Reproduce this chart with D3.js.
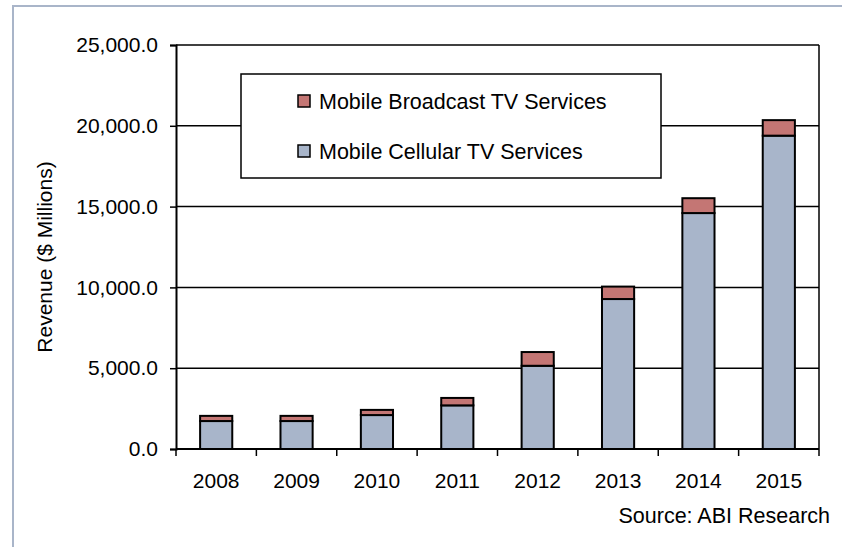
<!DOCTYPE html>
<html>
<head>
<meta charset="utf-8">
<script src="https://cdn.jsdelivr.net/npm/d3@7"></script>
<style>
  body { margin: 0; background: #fff; }
  svg text { font-family: "Liberation Sans", Arial, sans-serif; fill: #000; }
</style>
</head>
<body>
<div id="chart"></div>
<script>
const years = ['2008', '2009', '2010', '2011', '2012', '2013', '2014', '2015'];
const cellular = [1730, 1730, 2100, 2700, 5150, 9280, 14600, 19390];
const broadcast = [320, 320, 320, 460, 850, 770, 920, 960];
const yTicks = [0, 5000, 10000, 15000, 20000, 25000];
const seriesNames = ['Mobile Broadcast TV Services', 'Mobile Cellular TV Services'];
const seriesColors = ['#c47674', '#a8b5ca'];

const W = 842, H = 547;
const margin = {left: 176, right: 23, top: 45, bottom: 98};

const svg = d3.select('#chart').append('svg')
    .attr('width', W)
    .attr('height', H);

// outer frame (only top and left edges are visible in the picture)
svg.append('path')
    .attr('d', `M13,${H} V6 H${W}`)
    .attr('fill', 'none')
    .attr('stroke', '#a9b5c9')
    .attr('stroke-width', 2);

const x = d3.scaleBand().domain(years)
    .range([margin.left, W - margin.right])
    .paddingInner(0.6).paddingOuter(0.3);
const y = d3.scaleLinear().domain([0, 25000])
    .range([H - margin.bottom, margin.top]);

// gridlines
svg.append('g')
    .selectAll('line')
    .data(yTicks.slice(1))
    .join('line')
    .attr('x1', margin.left).attr('x2', W - margin.right)
    .attr('y1', d => y(d)).attr('y2', d => y(d))
    .attr('stroke', '#000').attr('stroke-width', 1.5);

// right edge of plot area
svg.append('line')
    .attr('x1', W - margin.right).attr('x2', W - margin.right)
    .attr('y1', y(25000)).attr('y2', y(0))
    .attr('stroke', '#000').attr('stroke-width', 1.5);

// legend box (drawn over the gridlines)
const legend = svg.append('g');
legend.append('rect')
    .attr('x', 241).attr('y', 74).attr('width', 420).attr('height', 104)
    .attr('fill', '#fff').attr('stroke', '#000').attr('stroke-width', 1.5);
seriesNames.forEach((name, i) => {
    const cy = 101 + i * 50;
    legend.append('rect')
        .attr('x', 298).attr('y', cy - 6).attr('width', 12).attr('height', 12)
        .attr('fill', seriesColors[i]).attr('stroke', '#000').attr('stroke-width', 1.5);
    legend.append('text')
        .attr('x', 319).attr('y', cy)
        .attr('dy', '0.36em')
        .attr('font-size', 21.5)
        .text(name);
});

// bars
const bars = svg.append('g');
years.forEach((yr, i) => {
    const x0 = x(yr);
    bars.append('rect')
        .attr('x', x0).attr('width', x.bandwidth())
        .attr('y', y(cellular[i])).attr('height', y(0) - y(cellular[i]))
        .attr('fill', seriesColors[1]).attr('stroke', '#000').attr('stroke-width', 2);
    bars.append('rect')
        .attr('x', x0).attr('width', x.bandwidth())
        .attr('y', y(cellular[i] + broadcast[i]))
        .attr('height', y(cellular[i]) - y(cellular[i] + broadcast[i]))
        .attr('fill', seriesColors[0]).attr('stroke', '#000').attr('stroke-width', 2);
});

// y axis
const yAxis = svg.append('g')
    .attr('transform', `translate(${margin.left},0)`)
    .call(d3.axisLeft(y).tickValues(yTicks).tickSize(6).tickPadding(12)
        .tickFormat(d => d3.format(',.1f')(d)));
yAxis.select('.domain').attr('stroke', '#000').attr('stroke-width', 2);
yAxis.selectAll('.tick line').attr('stroke', '#000').attr('stroke-width', 1.5);
yAxis.selectAll('.tick text')
    .attr('font-size', 21)
    .attr('font-family', '"Liberation Sans", Arial, sans-serif');

// x axis: ticks sit between the bars
const xAxis = svg.append('g')
    .attr('transform', `translate(0,${y(0)})`);
xAxis.append('line')
    .attr('x1', margin.left).attr('x2', W - margin.right)
    .attr('stroke', '#000').attr('stroke-width', 2);
const step = x.step();
const bounds = d3.range(years.length + 1).map(i => margin.left + i * step);
xAxis.selectAll('line.xt')
    .data(bounds)
    .join('line')
    .attr('class', 'xt')
    .attr('x1', d => d).attr('x2', d => d)
    .attr('y1', 0).attr('y2', 7)
    .attr('stroke', '#000').attr('stroke-width', 1.5);
xAxis.selectAll('text')
    .data(years)
    .join('text')
    .attr('x', d => x(d) + x.bandwidth() / 2)
    .attr('y', 39)
    .attr('text-anchor', 'middle')
    .attr('font-size', 21)
    .text(d => d);

// y axis title
svg.append('text')
    .attr('transform', 'translate(52,257) rotate(-90)')
    .attr('text-anchor', 'middle')
    .attr('font-size', 21)
    .text('Revenue ($ Millions)');

// source note
svg.append('text')
    .attr('x', 830).attr('y', 523)
    .attr('text-anchor', 'end')
    .attr('font-size', 21.5)
    .text('Source: ABI Research');
</script>
</body>
</html>
